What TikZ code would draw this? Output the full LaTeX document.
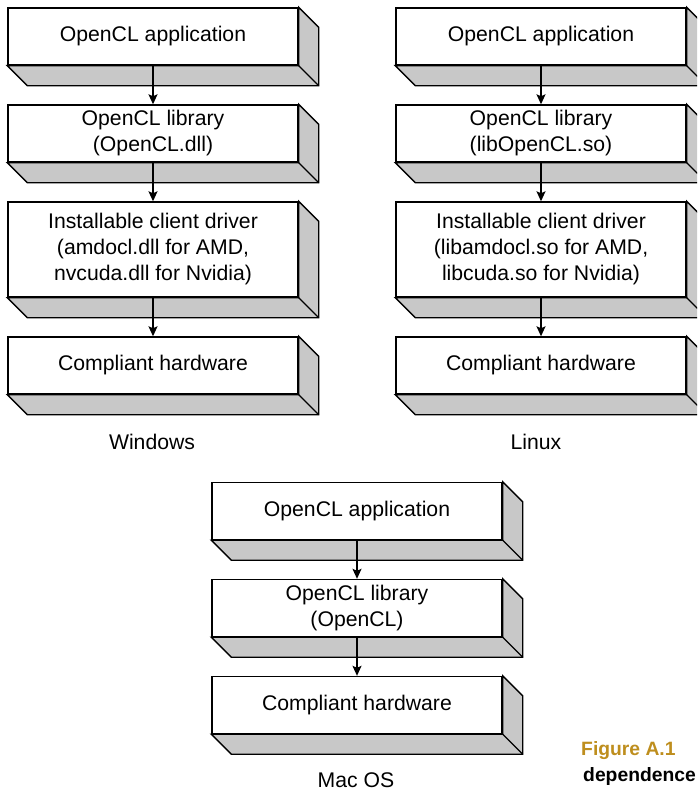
\documentclass[tikz,border=0pt]{standalone}
\usepackage{fontspec}
\setmainfont{Liberation Sans}
\usetikzlibrary{arrows.meta, positioning}
\definecolor{sidegray}{RGB}{200,200,200}
\definecolor{figgold}{RGB}{190,142,30}

% grey bottom and right faces of a slab
\newcommand{\slabsides}[1]{%
  \draw[side] (#1.south west) -- ++(20,20) -- ([shift={(20,20)}]#1.south east)
    -- ([shift={(20,20)}]#1.north east) -- (#1.north east) -- (#1.south east) -- cycle;
  \draw[line width=1.4pt] (#1.south east) -- ++(20,20);}

\begin{document}
\begin{tikzpicture}[x=1pt, y=-1pt, node distance=38.6pt,
    box/.style={draw, fill=white, line width=1.4pt, minimum width=290pt,
                minimum height=57pt, align=center, inner sep=0pt},
    side/.style={draw, fill=sidegray, line width=1.4pt},
    arrow/.style={-{Stealth[length=10pt, width=9pt, inset=2pt]}, line width=1.4pt},
    caption/.style={anchor=west, inner sep=0pt, font=\bfseries\fontsize{19.3}{23}\selectfont},
    every node/.style={font=\fontsize{21.2}{26}\selectfont}
]
\useasboundingbox (0,0) rectangle (697,792);
\clip (0,0) rectangle (697,792);

% Windows stack
\node[box] (winapp) at (153,36.5) {OpenCL application};
\node[box, below=of winapp] (winlib) {OpenCL library\\(OpenCL.dll)};
\node[box, minimum height=95pt, below=of winlib] (winicd)
  {Installable client driver\\(amdocl.dll for AMD,\\nvcuda.dll for Nvidia)};
\node[box, below=of winicd] (winhw) {Compliant hardware};
\node (winos) at (152,442) {Windows};

% Linux stack
\node[box] (linapp) at (541,36.5) {OpenCL application};
\node[box, below=of linapp] (linlib) {OpenCL library\\(libOpenCL.so)};
\node[box, minimum height=95pt, below=of linlib] (linicd)
  {Installable client driver\\(libamdocl.so for AMD,\\libcuda.so for Nvidia)};
\node[box, below=of linicd] (linhw) {Compliant hardware};
\node (linos) at (536,442) {Linux};

% Mac OS stack
\node[box] (macapp) at (357,511) {OpenCL application};
\node[box, below=of macapp] (maclib) {OpenCL library\\(OpenCL)};
\node[box, below=of maclib] (machw) {Compliant hardware};
\node (macos) at (356,780) {Mac OS};

\foreach \n in {winapp,winlib,winicd,winhw,linapp,linlib,linicd,linhw,macapp,maclib,machw}
  {\slabsides{\n}}

\draw[arrow] (winapp) -- (winlib);
\draw[arrow] (winlib) -- (winicd);
\draw[arrow] (winicd) -- (winhw);
\draw[arrow] (linapp) -- (linlib);
\draw[arrow] (linlib) -- (linicd);
\draw[arrow] (linicd) -- (linhw);
\draw[arrow] (macapp) -- (maclib);
\draw[arrow] (maclib) -- (machw);

% caption
\node[caption, text=figgold] (figno) at (581,751) {Figure A.1};
\node[caption] (figtext) at (583,777) {dependence};
\end{tikzpicture}
\end{document}
